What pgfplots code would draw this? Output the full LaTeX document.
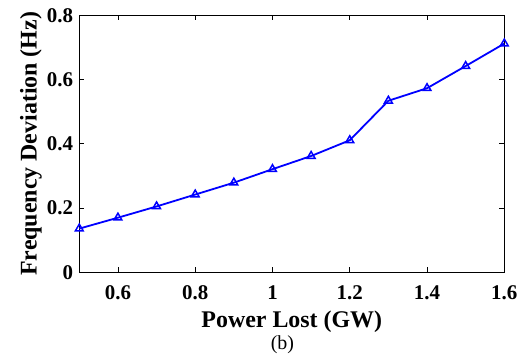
\documentclass[border=0pt]{standalone}
\usepackage{fontspec}
\setmainfont{Liberation Serif}
\usepackage{pgfplots}
\pgfplotsset{compat=1.18}
\begin{document}
\begin{tikzpicture}
\begin{axis}[
  name=ax,
  scale only axis,
  width=425bp, height=257bp,
  xmin=0.5, xmax=1.6, ymin=0, ymax=0.8,
  xtick={0.6,0.8,1,1.2,1.4,1.6},
  ytick={0,0.2,0.4,0.6,0.8},
  tick align=inside,
  major tick length=5bp,
  axis line style={black, line width=0.8bp},
  every tick/.style={black, line width=0.8bp},
  /pgf/number format/assume math mode=true,
  /pgf/number format/fixed,
  /pgf/number format/precision=1,
  tick label style={font=\fontsize{21}{21}\selectfont\bfseries},
  xticklabel style={inner sep=0pt, anchor=north, yshift=-12.7bp},
  yticklabel style={inner sep=0pt, anchor=east, xshift=-6bp},
  xlabel={Power Lost (GW)},
  ylabel={Frequency Deviation (Hz)},
  label style={font=\fontsize{24}{24}\selectfont\bfseries},
  xlabel style={at={(axis description cs:0.5,-0.151)}, anchor=north, inner sep=0pt},
  ylabel style={at={(axis description cs:-0.0878,0.5)}, anchor=south, inner sep=0pt},
  clip=false,
]
\addplot[color=blue, line width=1.8bp, mark=triangle, mark size=4.5bp, mark options={solid, line width=1.5bp}]
coordinates {
(0.5,0.136) (0.6,0.170) (0.7,0.205) (0.8,0.242) (0.9,0.279) (1.0,0.321)
(1.1,0.362) (1.2,0.411) (1.3,0.534) (1.4,0.573) (1.5,0.642) (1.6,0.712)
};
\node[font=\fontsize{20}{20}\selectfont, anchor=base, inner sep=0pt] at (axis description cs:0.478,-0.299) {(b)};
\end{axis}
\path ([xshift=-79.3bp,yshift=-81.7bp]ax.south west) rectangle ++(525bp,354bp);
\end{tikzpicture}
\end{document}
